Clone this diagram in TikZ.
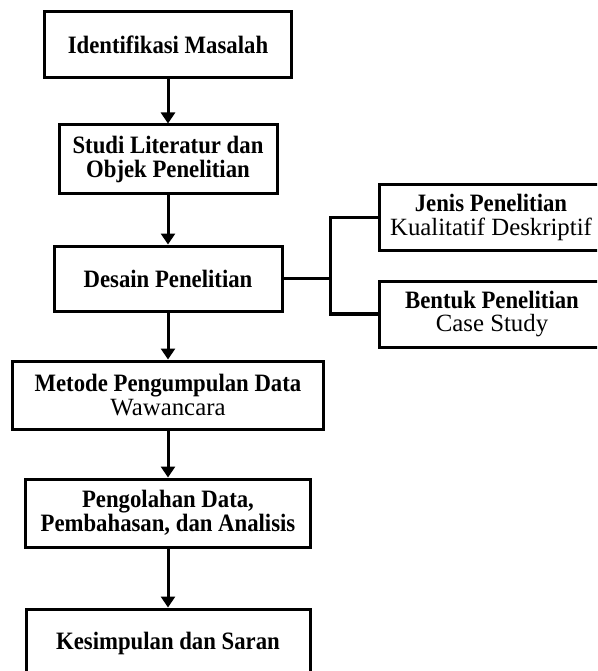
\documentclass[tikz,border=0pt]{standalone}
\usepackage{fontspec}
\setmainfont{Liberation Serif}
\newfontfamily\tallserif[FakeStretch=0.91]{Liberation Serif}
\newcommand{\regtext}{\rmfamily\mdseries\fontsize{24.8}{24}\selectfont}
\usetikzlibrary{arrows.meta}
\begin{document}
\begin{tikzpicture}[x=1pt,y=-1pt,
  box/.style={draw,line width=3pt,align=center,inner sep=0pt,font=\tallserif\fontsize{25}{24}\selectfont\bfseries},
  lbl/.style={align=center,inner sep=0pt,font=\tallserif\fontsize{25}{24}\selectfont},
  arr/.style={line width=3pt,-{Triangle[length=11pt,width=14pt]}},
  conn/.style={line width=3.2pt}]
\useasboundingbox (0,0) rectangle (597,671);
\clip (0,0) rectangle (597,671);
\node[box,minimum width=247pt,minimum height=66pt] (b1) at (168,44.5) {Identifikasi Masalah};
\node[box,minimum width=218pt,minimum height=68pt] (b2) at (168,159) {Studi Literatur dan\\Objek Penelitian};
\node[box,minimum width=228pt,minimum height=65pt] (b3) at (168,278.5) {Desain Penelitian};
\node[box,minimum width=270pt,minimum height=66pt] (jb) at (514,217.5) {};
\node[lbl] (jt) at (491,217.5) {\textbf{Jenis Penelitian}\\{\regtext Kualitatif Deskriptif}};
\node[box,minimum width=270pt,minimum height=66pt] (bb) at (514,314) {};
\node[lbl] (bt) at (492,314) {\textbf{Bentuk Penelitian}\\{\regtext Case Study}};
\node[box,minimum width=311pt,minimum height=68pt] (b4) at (168,395) {Metode Pengumpulan Data\\{\regtext Wawancara}};
\node[box,minimum width=285pt,minimum height=68pt] (b5) at (168,513) {Pengolahan Data,\\Pembahasan, dan Analisis};
\node[box,minimum width=284pt,minimum height=68pt] (b6) at (168,643) {Kesimpulan dan Saran};
\coordinate (hub) at (330.5,278.5);
\draw[arr] (b1.south) -- (b2.north);
\draw[arr] (b2.south) -- (b3.north);
\draw[arr] (b3.south) -- (b4.north);
\draw[arr] (b4.south) -- (b5.north);
\draw[arr] (b5.south) -- (b6.north);
\draw[conn] (b3.east) -- (hub);
\draw[conn] (jb.west) -| (hub) |- (bb.west);
\end{tikzpicture}
\end{document}
